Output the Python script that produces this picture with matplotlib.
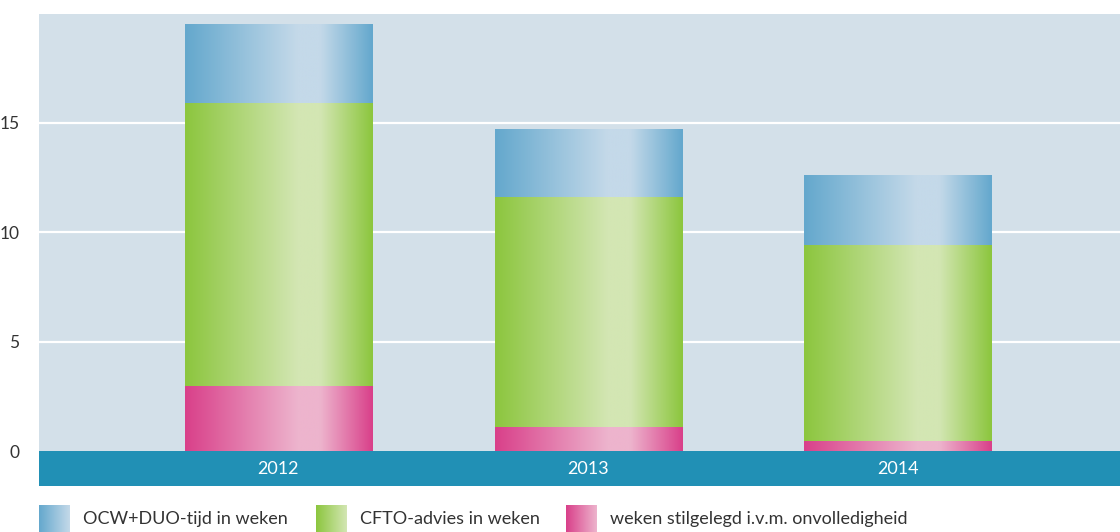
import matplotlib
matplotlib.use("Agg")
import matplotlib.pyplot as plt
import numpy as np
from matplotlib.colors import LinearSegmentedColormap

plt.rcParams['font.family'] = ['Lato', 'DejaVu Sans']

years = ['2012', '2013', '2014']
stilgelegd = [3.0, 1.1, 0.47]       # pink, bottom
cfto = [12.9, 10.5, 8.94]           # green, middle
ocw_duo = [3.6, 3.1, 3.2]           # blue, top
labels = ['OCW+DUO-tijd in weken', 'CFTO-advies in weken',
          'weken stilgelegd i.v.m. onvolledigheid']

bg = '#d3e0e9'
band = '#2190b5'
txt = '#333333'
shades = {
    'blue': ('#64a8cd', '#c4d9e9'),
    'green': ('#8cc63e', '#d3e6b3'),
    'pink': ('#d9408a', '#edb4cd'),
}

W, H = 1120, 532
fig = plt.figure(figsize=(W / 100, H / 100), dpi=100)
fig.patch.set_facecolor('white')

ymin, ymax = -1.58, 19.95
xmin, xmax = -0.773, 2.717
ax = fig.add_axes([39 / W, (H - 486) / H, 1 - 39 / W, (486 - 14) / H])
ax.set_facecolor(bg)
for s in ax.spines.values():
    s.set_visible(False)

for v in [5, 10, 15]:
    ax.axhline(v, color='white', lw=1.6, zorder=1)
ax.axhspan(ymin, 0, color=band, zorder=1, lw=0)

ax.set_yticks([0, 5, 10, 15])
ax.set_yticklabels(['0', '5', '10', '15'], fontsize=12.5, color=txt)
ax.tick_params(axis='y', length=0, pad=14)
ax.set_xticks([])

# horizontal gradient profile: dark at edges, light band around 2/3 across
prof = np.interp(np.linspace(0, 1, 256), [0, 0.6, 0.72, 1], [0, 1, 1, 0])[None, :]


def grad_cmap(name):
    dark, light = shades[name]
    return LinearSegmentedColormap.from_list(name, [dark, light])


x = np.arange(len(years))
width = 0.604
bottom = np.zeros(len(years))
for vals, name in [(stilgelegd, 'pink'), (cfto, 'green'), (ocw_duo, 'blue')]:
    bars = ax.bar(x, vals, width, bottom=bottom, color='none', lw=0, zorder=2)
    cm = grad_cmap(name)
    for b in bars:
        x0, y0 = b.get_x(), b.get_y()
        im = ax.imshow(prof, cmap=cm, aspect='auto', interpolation='bilinear',
                       extent=[x0, x0 + b.get_width(), y0, y0 + b.get_height()],
                       zorder=2)
        im.set_clip_path(b)
    bottom += np.array(vals)

ax.set_xlim(xmin, xmax)
ax.set_ylim(ymin, ymax)

for xi, yr in zip(x, years):
    ax.text(xi, ymin / 2, yr, color='white', fontsize=13, ha='center', va='center')

# legend
lin = np.linspace(0, 1, 128)[None, :]
swatches = [(39, 'blue'), (316, 'green'), (566, 'pink')]
for (sx, name), lab in zip(swatches, labels):
    lax = fig.add_axes([sx / W, 0, 31 / W, (H - 505) / H])
    lax.imshow(lin, cmap=grad_cmap(name), aspect='auto', interpolation='bilinear')
    lax.axis('off')
    fig.text((sx + 44) / W, (H - 519) / H, lab, fontsize=13, color=txt,
             ha='left', va='center')

fig.savefig('out.png', dpi=100, facecolor='white')
